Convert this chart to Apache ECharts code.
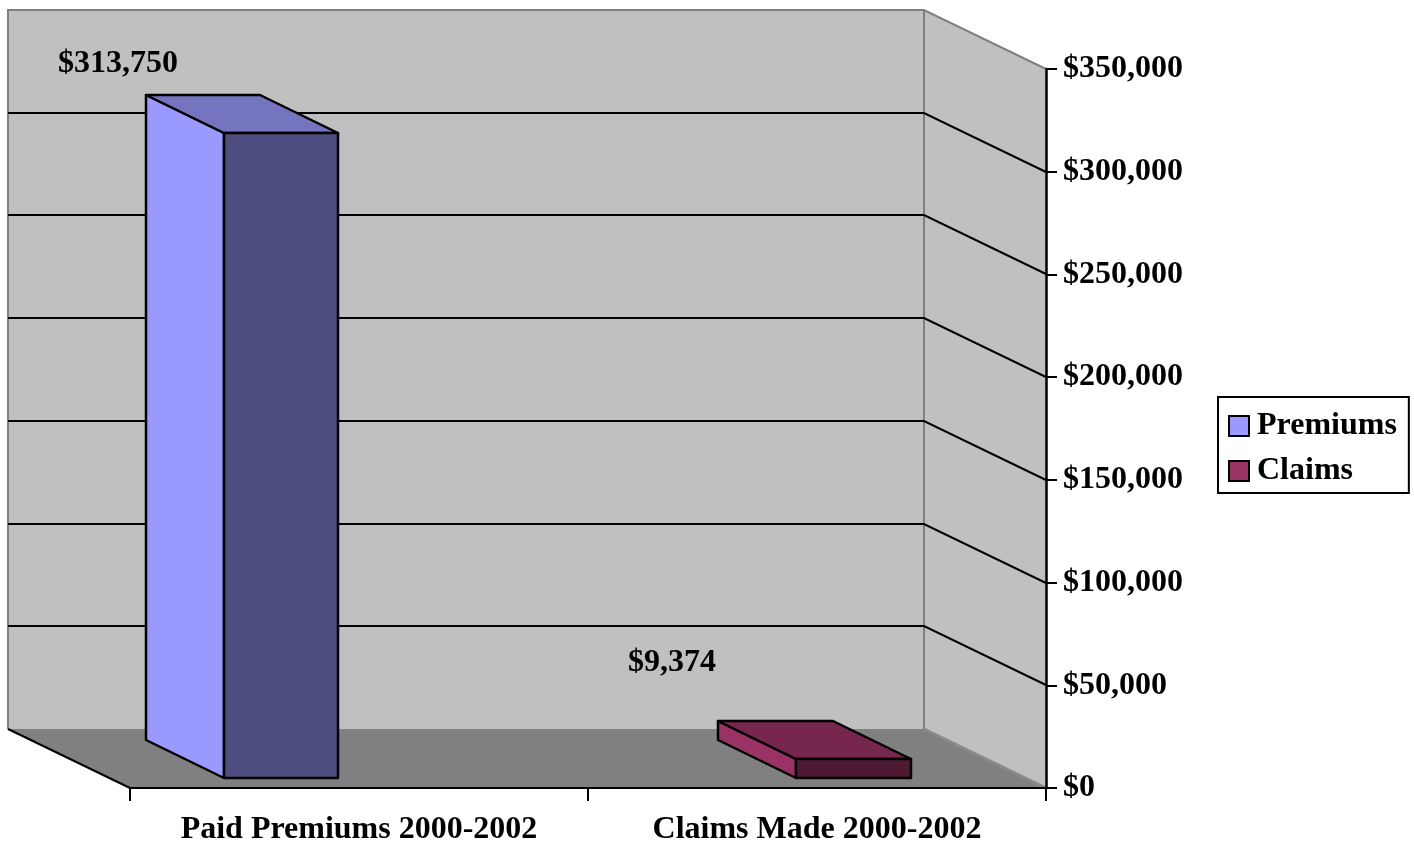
<!DOCTYPE html>
<html>
<head>
<meta charset="utf-8">
<script src="https://cdn.jsdelivr.net/npm/echarts@6/dist/echarts.min.js"></script>
<style>
html,body{margin:0;padding:0;background:#fff;}
#chart{width:1414px;height:846px;}
</style>
</head>
<body>
<div id="chart"></div>
<script>
// ---- data ----
const categories = ['Paid Premiums 2000-2002', 'Claims Made 2000-2002'];
const seriesNames = ['Premiums', 'Claims'];
const premiums = [313750, null];
const claims = [null, 9374];
const yMin = 0;
const yMax = 350000;
const yInterval = 50000;

// ---- styles ----
const FONT = "'Liberation Serif', 'Times New Roman', serif";
const FS = 32;
const DEPTH = [-122, -59];       // front -> back offset of the 3D box
const BAR_FRONT = 0.175, BAR_BACK = 0.81;
const barColors = [
  { side: '#9999FF', top: '#7474BF', front: '#4D4D80' },
  { side: '#993366', top: '#77264D', front: '#4D1A33' }
];
const labelOffsets = [[-28, -31], [-46, -58]];

function money(v) { return '$' + Number(v).toLocaleString('en-US'); }
const R = Math.round;

function frameRenderer(params, api) {
  const cs = params.coordSys;
  const x0 = R(cs.x), x1 = R(cs.x + cs.width);
  const yTop = R(api.coord([0, yMax])[1]);
  const yBot = R(api.coord([0, yMin])[1]);
  const dx = DEPTH[0], dy = DEPTH[1];
  const children = [];
  children.push({ type: 'rect', shape: { x: x0 + dx, y: yTop + dy, width: x1 - x0, height: yBot - yTop },
    style: { fill: '#C0C0C0' } });
  children.push({ type: 'polygon', shape: { points: [[x1 + dx, yTop + dy], [x1, yTop], [x1, yBot], [x1 + dx, yBot + dy]] },
    style: { fill: '#C0C0C0' } });
  children.push({ type: 'polygon', shape: { points: [[x0 + dx, yBot + dy], [x1 + dx, yBot + dy], [x1, yBot], [x0, yBot]] },
    style: { fill: '#808080' } });
  const gray = { stroke: '#808080', lineWidth: 2, fill: null };
  children.push({ type: 'polyline', shape: { points: [[x0 + dx, yBot + dy], [x0 + dx, yTop + dy], [x1 + dx, yTop + dy], [x1, yTop]] }, style: gray });
  children.push({ type: 'line', shape: { x1: x1 + dx, y1: yTop + dy, x2: x1 + dx, y2: yBot + dy }, style: gray });
  children.push({ type: 'line', shape: { x1: x1 + dx, y1: yBot + dy, x2: x1, y2: yBot }, style: { stroke: '#8A8A8A', lineWidth: 3 } });
  for (let v = yMin + yInterval; v < yMax; v += yInterval) {
    const y = R(api.coord([0, v])[1]);
    children.push({ type: 'polyline', shape: { points: [[x0 + dx, y + dy], [x1 + dx, y + dy], [x1, y]] },
      style: { stroke: '#000', lineWidth: 2, fill: null } });
  }
  children.push({ type: 'line', shape: { x1: x0 + dx, y1: yBot + dy, x2: x0, y2: yBot },
    style: { stroke: '#000', lineWidth: 2 } });
  return { type: 'group', children: children };
}

function barRenderer(si) {
  return function (params, api) {
    const cat = api.value(0), val = api.value(1);
    const base = api.coord([cat, 0]);
    const top = api.coord([cat, val]);
    const bw = api.size([1, 0])[0] / 4;
    const xl = R(base[0] - bw + si * bw), xr = R(base[0] + si * bw);
    const ax = R(DEPTH[0] * BAR_FRONT), ay = R(DEPTH[1] * BAR_FRONT);
    const bx = R(DEPTH[0] * BAR_BACK), by = R(DEPTH[1] * BAR_BACK);
    const yt = R(top[1]), yb = R(base[1]);
    const c = barColors[si];
    const st = { stroke: '#000', lineWidth: 2.5, lineJoin: 'round' };
    const off = labelOffsets[si];
    return { type: 'group', children: [
      { type: 'polygon', shape: { points: [[xl + bx, yt + by], [xl + ax, yt + ay], [xl + ax, yb + ay], [xl + bx, yb + by]] },
        style: Object.assign({ fill: c.side }, st) },
      { type: 'polygon', shape: { points: [[xl + bx, yt + by], [xr + bx, yt + by], [xr + ax, yt + ay], [xl + ax, yt + ay]] },
        style: Object.assign({ fill: c.top }, st) },
      { type: 'rect', shape: { x: xl + ax, y: yt + ay, width: xr - xl, height: yb - yt },
        style: Object.assign({ fill: c.front }, st) },
      { type: 'text', style: { text: money(val), x: xl + bx + off[0], y: yt + by + off[1],
        align: 'center', verticalAlign: 'middle', fill: '#000',
        fontFamily: FONT, fontWeight: 'bold', fontSize: FS } }
    ] };
  };
}

function toData(arr) {
  const out = [];
  arr.forEach(function (v, i) { if (v != null) out.push([i, v]); });
  return out;
}

const chart = echarts.init(document.getElementById('chart'), null, { renderer: 'canvas' });
chart.setOption({
  backgroundColor: '#fff',
  animation: false,
  grid: { left: 130, right: 368, top: 69, bottom: 56, containLabel: false },
  legend: {
    data: seriesNames,
    orient: 'vertical',
    left: 1218, top: 397,
    backgroundColor: '#fff',
    borderColor: '#000', borderWidth: 2, borderRadius: 0,
    padding: [13, 12, 6, 10],
    itemWidth: 20, itemHeight: 20, itemGap: 13,
    icon: 'rect',
    itemStyle: { borderColor: '#000', borderWidth: 2 },
    textStyle: { fontFamily: FONT, fontWeight: 'bold', fontSize: FS, color: '#000', lineHeight: 32, padding: [0, 0, 0, 3] }
  },
  xAxis: {
    type: 'category',
    data: categories,
    boundaryGap: true,
    z: 10,
    axisLine: { lineStyle: { color: '#000', width: 2 } },
    axisTick: { show: true, interval: 0, length: 13, lineStyle: { color: '#000', width: 2 } },
    axisLabel: { interval: 0, hideOverlap: false, margin: 26, color: '#000', fontFamily: FONT, fontWeight: 'bold', fontSize: FS },
    splitLine: { show: false }
  },
  yAxis: {
    type: 'value',
    position: 'right',
    min: yMin, max: yMax, interval: yInterval,
    z: 10,
    axisLine: { show: true, lineStyle: { color: '#000', width: 2.5 } },
    axisTick: { show: true, inside: false, length: 11, lineStyle: { color: '#000', width: 2 } },
    axisLabel: { margin: 17, color: '#000', fontFamily: FONT, fontWeight: 'bold', fontSize: FS, formatter: money },
    splitLine: { show: false }
  },
  series: [
    { type: 'custom', name: 'frame', silent: true, z: 1, renderItem: frameRenderer, data: [[0, 0]] },
    { type: 'custom', name: seriesNames[0], z: 2, renderItem: barRenderer(0), data: toData(premiums),
      itemStyle: { color: barColors[0].side } },
    { type: 'custom', name: seriesNames[1], z: 2, renderItem: barRenderer(1), data: toData(claims),
      itemStyle: { color: barColors[1].side } }
  ]
});
</script>
</body>
</html>
